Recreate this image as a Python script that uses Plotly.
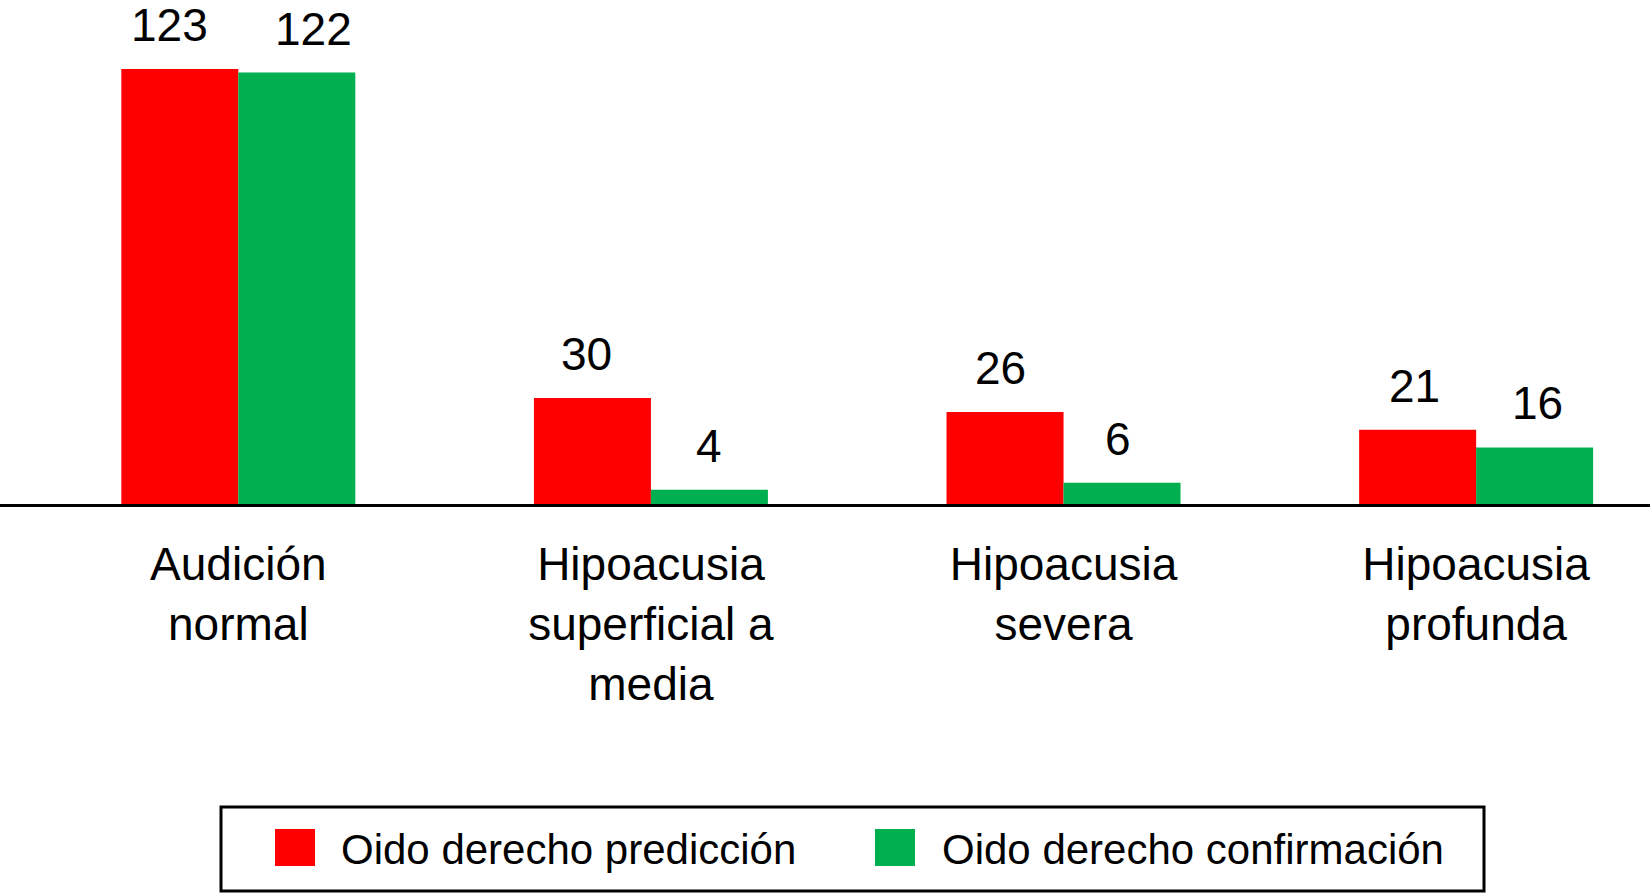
import plotly.graph_objects as go

categories = ["Audición normal", "Hipoacusia superficial a media", "Hipoacusia severa", "Hipoacusia profunda"]
tick_labels = ["Audición<br>normal", "Hipoacusia<br>superficial a<br>media", "Hipoacusia<br>severa", "Hipoacusia<br>profunda"]
series_names = ["Oido derecho predicción", "Oido derecho confirmación"]
prediccion = [123, 30, 26, 21]
confirmacion = [122, 4, 6, 16]

colors = ["#FF0000", "#00B050"]
FONT = "Liberation Sans, Arial, Helvetica, sans-serif"
W, H = 1650, 894
L, R, T, B = 0, 0, 0, 390
BW = 0.2836  # bar width in category units
# small horizontal nudges of value labels (pixels), per series / category
label_nudge = [[-10, -6, -5, -3], [17, 0, -4, 3]]

xpos = list(range(len(categories)))
fig = go.Figure()
for name, vals, col in zip(series_names, [prediccion, confirmacion], colors):
    fig.add_trace(go.Bar(x=xpos, y=vals, name=name, marker=dict(color=col, line=dict(width=0)),
                         width=BW, showlegend=False))

# value labels above bars
offsets = [-BW / 2, BW / 2]
for off, vals, nudges in zip(offsets, [prediccion, confirmacion], label_nudge):
    for xi, v, nx in zip(xpos, vals, nudges):
        fig.add_annotation(x=xi + off, y=v, text=str(v), showarrow=False, xanchor="center",
                           yanchor="bottom", yshift=16, xshift=nx,
                           font=dict(family=FONT, size=46, color="black"))

# legend drawn manually
ph = H - T - B
def py(p):
    return (H - B - p) / ph

fig.add_shape(type="rect", xref="paper", yref="paper", x0=221 / W, x1=1484 / W, y0=py(891), y1=py(807),
              line=dict(color="black", width=3), fillcolor="white")
leg_x = [(275, 339), (875, 940)]
for (sx, tx), name, col in zip(leg_x, series_names, colors):
    fig.add_shape(type="rect", xref="paper", yref="paper", x0=sx / W, x1=(sx + 40) / W,
                  y0=py(866), y1=py(829), line=dict(width=0), fillcolor=col)
    fig.add_annotation(xref="paper", yref="paper", x=tx / W, y=py(849), text=name, showarrow=False,
                       xanchor="left", yanchor="middle", font=dict(family=FONT, size=42, color="black"))

fig.update_layout(
    width=W, height=H,
    margin=dict(l=L, r=R, t=T, b=B, pad=0, autoexpand=False),
    paper_bgcolor="white", plot_bgcolor="white",
    barmode="group", bargap=0.433, bargroupgap=0,
    showlegend=False,
    font=dict(family=FONT, size=46, color="black"),
)
fig.update_xaxes(range=[-0.5776, 3.4214], tickmode="array", tickvals=xpos, ticktext=tick_labels,
                 showgrid=False, zeroline=False, showline=True, linecolor="black", linewidth=3,
                 ticks="", ticklabelstandoff=18, automargin=False,
                 tickfont=dict(family=FONT, size=46, color="black"))
fig.update_yaxes(range=[0, 142.5], visible=False, showgrid=False, zeroline=False, automargin=False)

fig.write_html("out.html", config={"displayModeBar": False},
               post_script="document.body.style.margin='0px';")
